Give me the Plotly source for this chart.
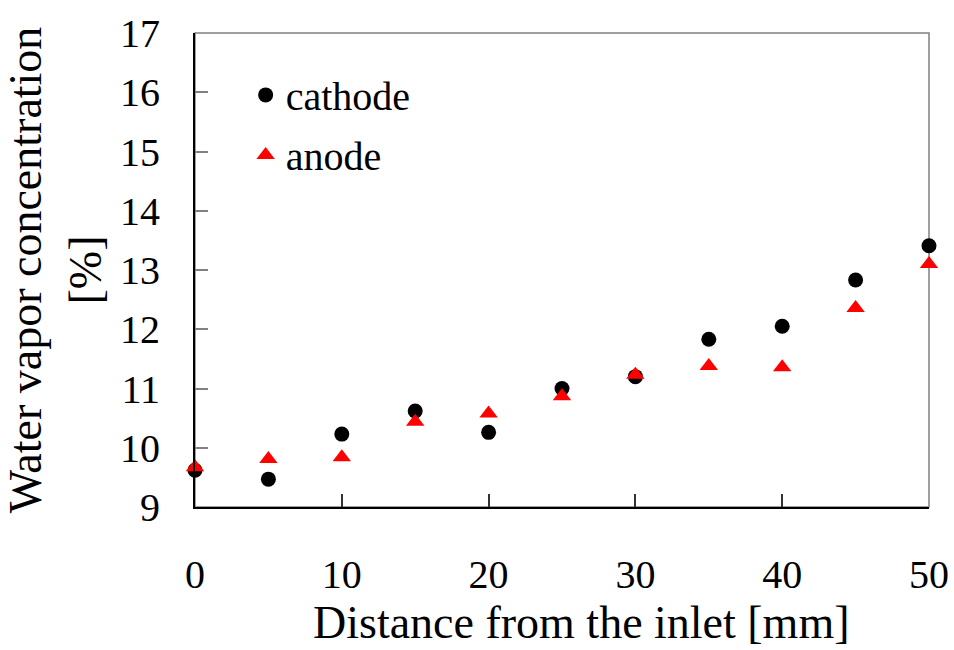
import plotly.graph_objects as go

distance = [0, 5, 10, 15, 20, 25, 30, 35, 40, 45, 50]
cathode = [9.62, 9.47, 10.23, 10.62, 10.26, 11.00, 11.20, 11.83, 12.05, 12.83, 13.41]
anode = [9.67, 9.81, 9.84, 10.44, 10.58, 10.87, 11.23, 11.38, 11.36, 12.36, 13.10]
x_ticks = [0, 10, 20, 30, 40, 50]
y_ticks = [9, 10, 11, 12, 13, 14, 15, 16, 17]
x_title = "Distance from the inlet [mm]"
y_title = "Water vapor concentration<br>[%]"

FONT = "Liberation Serif"

fig = go.Figure()
fig.add_trace(go.Scatter(
    x=distance, y=cathode, mode="markers", name="cathode",
    marker=dict(symbol="circle", size=15, color="black"),
    cliponaxis=False, legendgroup="c"))
fig.add_trace(go.Scatter(
    x=distance, y=anode, mode="markers", name="anode",
    marker=dict(symbol="triangle-up", size=16, color="#ff0000"),
    cliponaxis=False, legendgroup="a"))

fig.add_shape(type="rect", xref="paper", yref="paper", x0=0, x1=1, y0=0, y1=1,
              line=dict(color="#808080", width=1.5), layer="below")

fig.add_annotation(text=x_title, xref="paper", yref="paper", x=0.526, y=-0.243,
                   xanchor="center", yanchor="middle", showarrow=False,
                   font=dict(family=FONT, size=46, color="black"))

fig.update_layout(
    width=954, height=650,
    margin=dict(l=195, r=25, t=33, b=143, autoexpand=False),
    paper_bgcolor="white", plot_bgcolor="white",
    font=dict(family=FONT, color="black", size=40),
    showlegend=True,
    legend=dict(x=0.069, y=0.938, xanchor="left", yanchor="top",
                font=dict(family=FONT, size=40), bgcolor="rgba(0,0,0,0)",
                tracegroupgap=5),
    xaxis=dict(range=[0, 50], tickvals=x_ticks, ticks="inside", ticklen=13,
               tickcolor="#333333", tickwidth=1.5,
               showline=True, linecolor="black", linewidth=2, mirror=False,
               showgrid=False, zeroline=False, automargin=False,
               tickfont=dict(family=FONT, size=40),
               ticklabelstandoff=31),
    yaxis=dict(range=[9, 17], tickvals=y_ticks, ticks="inside", ticklen=13,
               tickcolor="#808080", tickwidth=1.5,
               showline=True, linecolor="black", linewidth=2, mirror=False,
               showgrid=False, zeroline=False, automargin=False,
               tickfont=dict(family=FONT, size=40),
               ticklabelstandoff=25,
               title=dict(text=y_title,
                          font=dict(family=FONT, size=46), standoff=6)),
)

fig.write_html("out.html")
